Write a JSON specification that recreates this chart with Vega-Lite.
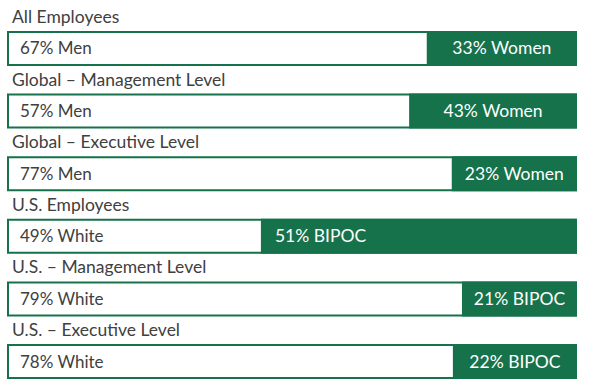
{
  "$schema": "https://vega.github.io/schema/vega-lite/v6.json",
  "width": 568,
  "height": 378,
  "autosize": "none",
  "padding": {"left": 8, "top": 0, "right": 24, "bottom": 6},
  "background": "white",
  "config": {"view": {"stroke": null}, "font": "Lato"},
  "data": {
    "values": [
      {"group": "All Employees", "left": "67% Men", "right": "33% Women", "split": 73.9},
      {"group": "Global – Management Level", "left": "57% Men", "right": "43% Women", "split": 70.8},
      {"group": "Global – Executive Level", "left": "77% Men", "right": "23% Women", "split": 78.3},
      {"group": "U.S. Employees", "left": "49% White", "right": "51% BIPOC", "split": 44.7},
      {"group": "U.S. – Management Level", "left": "79% White", "right": "21% BIPOC", "split": 80.1},
      {"group": "U.S. – Executive Level", "left": "78% White", "right": "22% BIPOC", "split": 78.5}
    ]
  },
  "encoding": {
    "y": {
      "field": "group",
      "type": "nominal",
      "sort": null,
      "axis": null,
      "scale": {"paddingInner": 0.473, "paddingOuter": 0.2556, "align": 1}
    }
  },
  "layer": [
    {
      "mark": {"type": "bar", "fill": "white", "stroke": "#16724a", "strokeWidth": 2},
      "encoding": {
        "x": {"datum": 0, "type": "quantitative", "scale": {"domain": [0, 100]}, "axis": null},
        "x2": {"datum": 100}
      }
    },
    {
      "mark": {"type": "bar", "fill": "#16724a", "stroke": "#16724a", "strokeWidth": 2},
      "encoding": {
        "x": {"field": "split", "type": "quantitative"},
        "x2": {"datum": 100}
      }
    },
    {
      "mark": {"type": "text", "align": "left", "baseline": "alphabetic", "dx": 4, "dy": -9, "fontSize": 17.5, "color": "#404040"},
      "encoding": {
        "x": {"datum": 0, "type": "quantitative"},
        "y": {"field": "group", "type": "nominal", "sort": null, "bandPosition": 0},
        "text": {"field": "group"}
      }
    },
    {
      "mark": {"type": "text", "align": "left", "baseline": "middle", "dx": 12, "dy": 1, "fontSize": 17, "color": "#404040"},
      "encoding": {
        "x": {"datum": 0, "type": "quantitative"},
        "y": {"field": "group", "type": "nominal", "sort": null, "bandPosition": 0.5},
        "text": {"field": "left"}
      }
    },
    {
      "transform": [
        {"filter": "datum.group !== 'U.S. Employees'"},
        {"calculate": "(datum.split + 100) / 2", "as": "mid"}
      ],
      "mark": {"type": "text", "align": "center", "baseline": "middle", "dy": 1, "fontSize": 17.5, "color": "white"},
      "encoding": {
        "x": {"field": "mid", "type": "quantitative"},
        "y": {"field": "group", "type": "nominal", "sort": null, "bandPosition": 0.5},
        "text": {"field": "right"}
      }
    },
    {
      "transform": [{"filter": "datum.group === 'U.S. Employees'"}],
      "mark": {"type": "text", "align": "left", "baseline": "middle", "dx": 13, "dy": 1, "fontSize": 17.5, "color": "white"},
      "encoding": {
        "x": {"field": "split", "type": "quantitative"},
        "y": {"field": "group", "type": "nominal", "sort": null, "bandPosition": 0.5},
        "text": {"field": "right"}
      }
    }
  ]
}
